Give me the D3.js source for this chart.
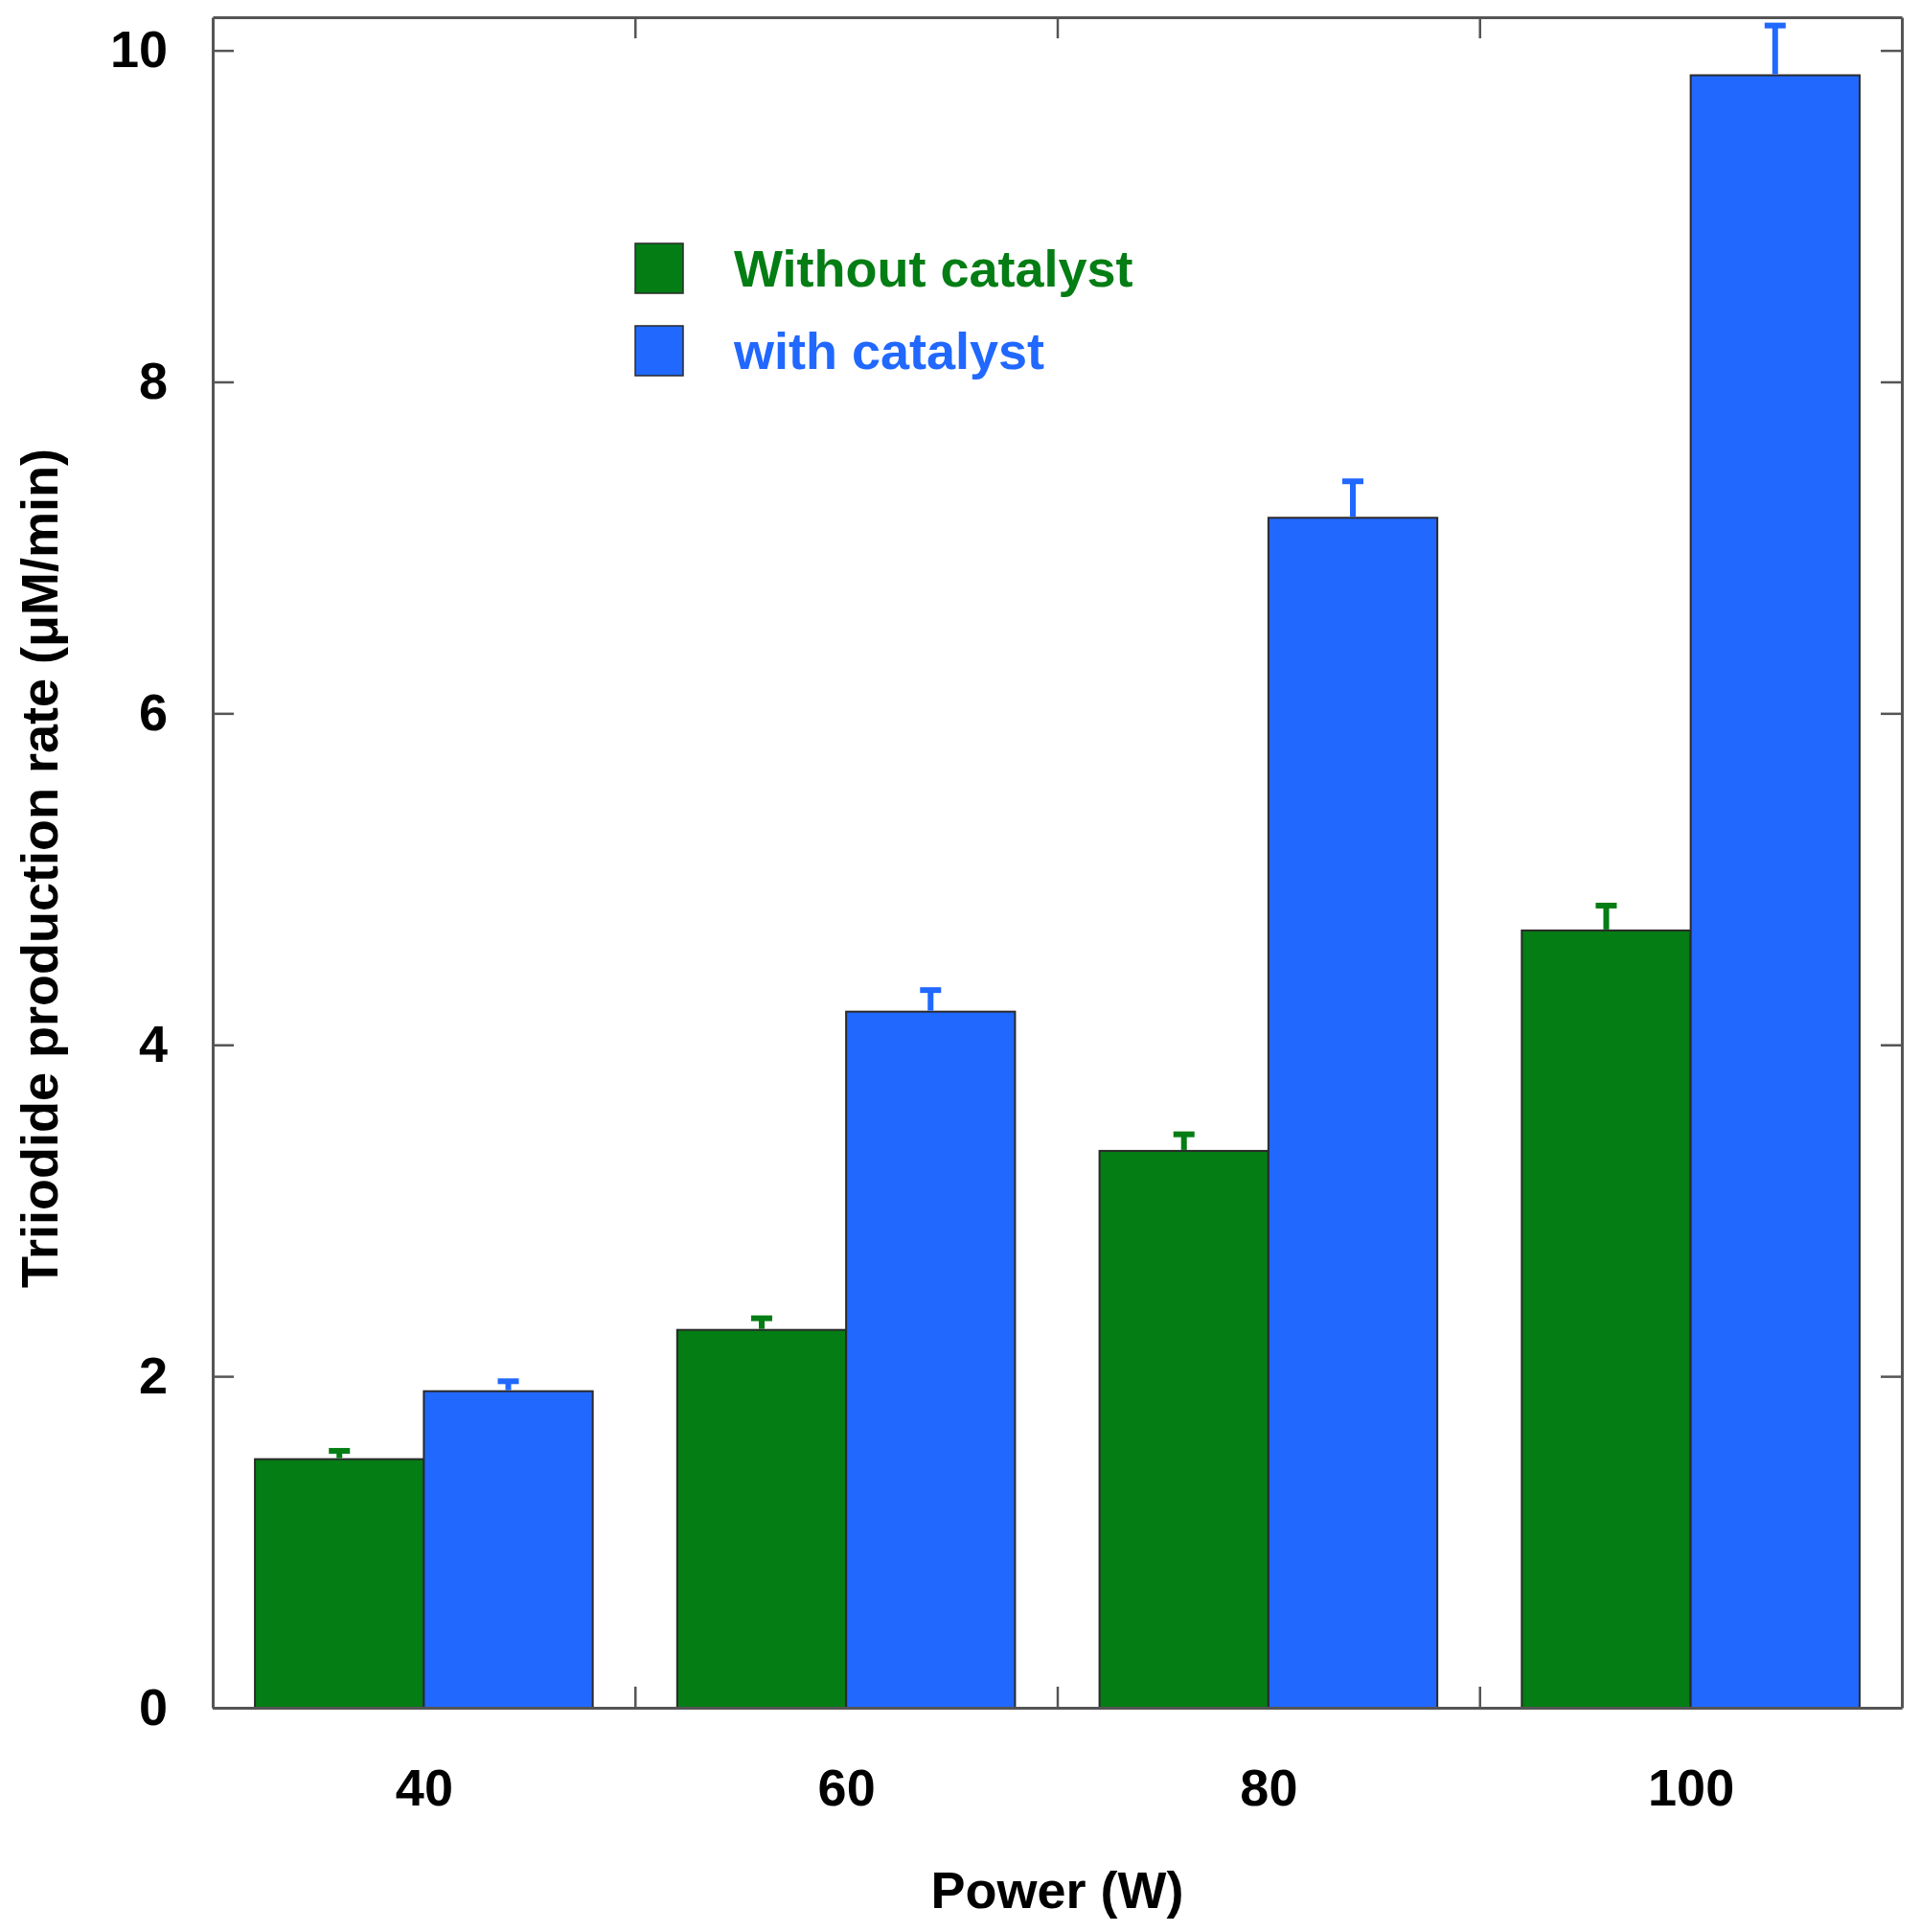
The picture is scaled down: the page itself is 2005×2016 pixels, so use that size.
<!DOCTYPE html>
<html>
<head>
<meta charset="utf-8">
<script src="https://cdn.jsdelivr.net/npm/d3@7/dist/d3.min.js"></script>
<style>
  html, body { margin: 0; padding: 0; background: #fff; }
  svg { display: block; }
  text { font-family: "Liberation Sans", Arial, Helvetica, sans-serif; font-weight: bold; }
</style>
</head>
<body>
<svg id="chart" width="2005" height="2016"></svg>
<script>
// ---- data ----
const powers = [40, 60, 80, 100];
const withoutCatalyst = [1.50, 2.28, 3.36, 4.69];
const withoutCatalystErr = [0.05, 0.07, 0.10, 0.15];
const withCatalyst = [1.91, 4.20, 7.18, 9.85];
const withCatalystErr = [0.06, 0.13, 0.22, 0.30];
const seriesNames = ["Without catalyst", "with catalyst"];
const yTicks = [0, 2, 4, 6, 8, 10];
const xLabelTicks = [40, 60, 80, 100];
const xMarkTicks = [50, 70, 90];
const xTitle = "Power (W)";
const yTitle = "Triiodide production rate (\u03BCM/min)";

// ---- layout ----
const colors = ["#037d14", "#2168ff"];
const plotL = 222, plotR = 1985, plotT = 18, plotB = 1782;
const barW = 8; // in data units (W)
const tickLen = 22;
const fs = 54;

const svg = d3.select("#chart");
const x = d3.scaleLinear().domain([30, 110]).range([plotL, plotR]);
const y = d3.scaleLinear().domain([0, 10.2]).range([plotB, plotT]);

const series = [
  { name: seriesNames[0], values: withoutCatalyst, errs: withoutCatalystErr, color: colors[0], offset: -barW },
  { name: seriesNames[1], values: withCatalyst, errs: withCatalystErr, color: colors[1], offset: 0 }
];

// bars
series.forEach(s => {
  const g = svg.append("g");
  g.selectAll("rect").data(powers).join("rect")
    .attr("x", (p) => x(p + s.offset))
    .attr("width", (p) => x(p + s.offset + barW) - x(p + s.offset))
    .attr("y", (p, i) => y(s.values[i]))
    .attr("height", (p, i) => y(0) - y(s.values[i]))
    .attr("fill", s.color)
    .attr("stroke", "#2a2a2a")
    .attr("stroke-width", 2);
});

// error bars (upper only)
series.forEach(s => {
  const g = svg.append("g").attr("stroke", s.color).attr("stroke-width", 6);
  powers.forEach((p, i) => {
    const cx = x(p + s.offset + barW / 2);
    g.append("line")
      .attr("x1", cx).attr("x2", cx)
      .attr("y1", y(s.values[i]) - 1).attr("y2", y(s.values[i] + s.errs[i]));
    g.append("line")
      .attr("x1", cx - 11).attr("x2", cx + 11)
      .attr("y1", y(s.values[i] + s.errs[i])).attr("y2", y(s.values[i] + s.errs[i]));
  });
});

// axes
const axisColor = "#555";
function styleAxis(g) {
  g.selectAll(".domain").attr("stroke", axisColor).attr("stroke-width", 3);
  g.selectAll(".tick line").attr("stroke", axisColor).attr("stroke-width", 2.5);
  g.selectAll("text").attr("fill", "#000").attr("font-size", fs)
    .attr("font-family", "'Liberation Sans', Arial, sans-serif").attr("font-weight", "bold");
}

// left axis with labels
svg.append("g").attr("transform", `translate(${plotL},0)`)
  .call(d3.axisLeft(y).tickValues(yTicks).tickFormat(d3.format("d"))
    .tickSize(-tickLen).tickSizeOuter(0).tickPadding(47))
  .call(styleAxis);

// right axis
svg.append("g").attr("transform", `translate(${plotR},0)`)
  .call(d3.axisRight(y).tickValues(yTicks).tickFormat("")
    .tickSize(-tickLen).tickSizeOuter(0))
  .call(styleAxis);

// bottom axis: tick marks
svg.append("g").attr("transform", `translate(0,${plotB})`)
  .call(d3.axisBottom(x).tickValues(xMarkTicks).tickFormat("")
    .tickSize(-tickLen).tickSizeOuter(0))
  .call(styleAxis);

// bottom axis: labels
const xl = svg.append("g").attr("transform", `translate(0,${plotB})`)
  .call(d3.axisBottom(x).tickValues(xLabelTicks).tickFormat(d3.format("d"))
    .tickSize(0).tickSizeOuter(0).tickPadding(64))
  .call(styleAxis);
xl.select(".domain").remove();

// top axis
svg.append("g").attr("transform", `translate(0,${plotT})`)
  .call(d3.axisTop(x).tickValues(xMarkTicks).tickFormat("")
    .tickSize(-tickLen).tickSizeOuter(0))
  .call(styleAxis);

// axis titles
svg.append("text")
  .attr("x", (plotL + plotR) / 2).attr("y", 1991)
  .attr("text-anchor", "middle").attr("font-size", fs).attr("fill", "#000")
  .text(xTitle);

svg.append("text")
  .attr("transform", `translate(60,906) rotate(-90)`)
  .attr("text-anchor", "middle").attr("font-size", fs).attr("fill", "#000")
  .text(yTitle);

// legend
const legend = svg.append("g");
const legendY = [280, 366];
series.forEach((s, i) => {
  legend.append("rect")
    .attr("x", 663).attr("y", legendY[i] - 26)
    .attr("width", 50).attr("height", 52)
    .attr("fill", s.color).attr("stroke", "#2a2a2a").attr("stroke-width", 1.5);
  legend.append("text")
    .attr("x", 766).attr("y", legendY[i] + 0.36 * fs)
    .attr("font-size", fs).attr("fill", s.color)
    .text(s.name);
});
</script>
</body>
</html>
